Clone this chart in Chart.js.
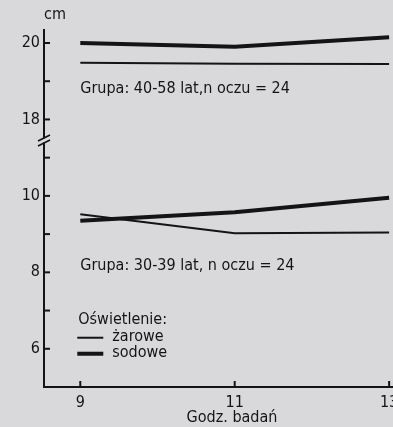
<!DOCTYPE html>
<html>
<head>
<meta charset="utf-8">
<script src="https://cdn.jsdelivr.net/npm/chart.js@4"></script>
<style>
  html, body { margin: 0; padding: 0; background: #d9d9db; overflow: hidden; }
  #wrap { width: 420px; height: 427px; }
</style>
</head>
<body>
<div id="wrap"><canvas id="c" width="420" height="427"></canvas></div>
<script>
// values
const hours = [9, 11, 13];
const sodowe40 = [20.0, 19.9, 20.15];   // Grupa 40-58 lat, sodowe
const zarowe40 = [19.48, 19.46, 19.45]; // Grupa 40-58 lat, żarowe
const sodowe30 = [9.35, 9.57, 9.95];    // Grupa 30-39 lat, sodowe
const zarowe30 = [9.52, 9.02, 9.04];    // Grupa 30-39 lat, żarowe

const xTicks = [9, 11, 13];
// axis is broken between 10 and 18: values above the break are shifted down by 6
const yTicks = [6, 7, 8, 9, 10, 11, 12, 13, 14];
const yLabels = { 6: "6", 8: "8", 10: "10", 12: "18", 14: "20" };
const BREAK_SHIFT = 6;

const ink = "#141414";
const bg = "#d9d9db";
const font = "'DejaVu Sans Condensed', 'DejaVu Sans', sans-serif";

function toAxis(v) { return v > 15 ? v - BREAK_SHIFT : v; }
function pts(vals) { return hours.map((h, i) => ({ x: h, y: toAxis(vals[i]) })); }

const extras = {
  id: "extras",
  afterDraw(chart) {
    const ctx = chart.ctx;
    const xs = chart.scales.x, ys = chart.scales.y;
    const area = chart.chartArea;
    ctx.save();
    ctx.strokeStyle = ink;
    ctx.fillStyle = ink;
    ctx.lineWidth = 2;

    // inward ticks
    yTicks.forEach(t => {
      const y = ys.getPixelForValue(t);
      ctx.beginPath(); ctx.moveTo(area.left, y); ctx.lineTo(area.left + 6, y); ctx.stroke();
    });
    xTicks.forEach(t => {
      const x = xs.getPixelForValue(t);
      ctx.beginPath(); ctx.moveTo(x, area.bottom); ctx.lineTo(x, area.bottom - 6); ctx.stroke();
    });

    // axis break
    const yb = ys.getPixelForValue(11.45);
    ctx.fillStyle = bg;
    ctx.fillRect(area.left - 2, yb - 2, 4, 4);
    ctx.fillStyle = ink;
    ctx.lineWidth = 1.6;
    [-2.5, 2.5].forEach(d => {
      ctx.beginPath();
      ctx.moveTo(area.left - 6, yb + d + 3);
      ctx.lineTo(area.left + 6, yb + d - 3);
      ctx.stroke();
    });

    // texts
    ctx.font = "16px " + font;
    ctx.textBaseline = "middle";
    ctx.textAlign = "left";
    ctx.fillText("cm", area.left, 15);
    const x0 = xs.getPixelForValue(9);
    ctx.fillText("Grupa: 40-58 lat,n oczu = 24", x0, ys.getPixelForValue(12.8));
    ctx.fillText("Grupa: 30-39 lat, n oczu = 24", x0, ys.getPixelForValue(8.18));

    // legend
    const ly = ys.getPixelForValue(6.76);
    ctx.fillText("Oświetlenie:", x0 - 2, ly);
    const l1 = ly + 17, l2 = ly + 33;
    ctx.fillText("żarowe", x0 + 32, l1);
    ctx.fillText("sodowe", x0 + 32, l2);
    ctx.lineWidth = 2;
    ctx.beginPath(); ctx.moveTo(x0 - 3, l1 + 1); ctx.lineTo(x0 + 23, l1 + 1); ctx.stroke();
    ctx.lineWidth = 4;
    ctx.beginPath(); ctx.moveTo(x0 - 3, l2 + 1); ctx.lineTo(x0 + 23, l2 + 1); ctx.stroke();
    ctx.restore();
  }
};

const line = (vals, w) => ({
  data: pts(vals),
  borderColor: ink,
  borderWidth: w,
  pointRadius: 0,
  tension: 0,
  fill: false
});

new Chart(document.getElementById("c"), {
  type: "line",
  data: {
    datasets: [
      line(sodowe40, 4),
      line(zarowe40, 2),
      line(sodowe30, 4),
      line(zarowe30, 2)
    ]
  },
  options: {
    responsive: false,
    animation: false,
    layout: { padding: { top: 30, left: 0, right: 0, bottom: 0 } },
    plugins: { legend: { display: false }, tooltip: { enabled: false } },
    scales: {
      x: {
        type: "linear",
        min: 8.53,
        max: 13.4,
        afterFit: s => { s.height = 40; },
        afterBuildTicks: s => { s.ticks = xTicks.map(v => ({ value: v })); },
        grid: { display: false, drawTicks: false },
        border: { display: true, color: ink, width: 2 },
        ticks: { color: ink, font: { family: font, size: 16 }, padding: 6, maxRotation: 0 },
        title: { display: true, text: "Godz. badań", color: ink, font: { family: font, size: 16 }, padding: 0 }
      },
      y: {
        type: "linear",
        min: 5,
        max: 14.34,
        afterFit: s => { s.width = 44; },
        afterBuildTicks: s => { s.ticks = yTicks.map(v => ({ value: v })); },
        grid: { display: false, drawTicks: false },
        border: { display: true, color: ink, width: 2 },
        ticks: {
          color: ink,
          font: { family: font, size: 16 },
          padding: 4,
          callback: v => yLabels[v] || ""
        }
      }
    }
  },
  plugins: [extras]
});
</script>
</body>
</html>
